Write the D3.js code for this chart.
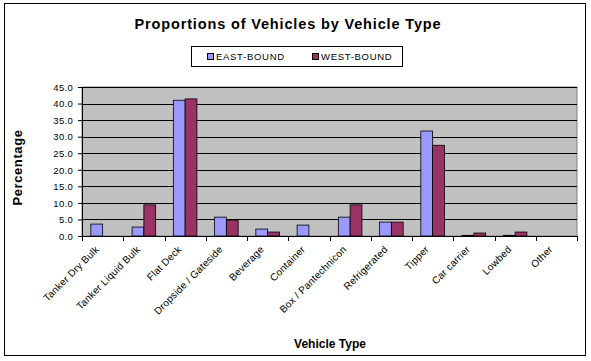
<!DOCTYPE html>
<html lang="en">
<head>
<meta charset="utf-8">
<script src="https://d3js.org/d3.v7.min.js"></script>
<style>
  body { margin: 0; background: #fff; }
  text { font-family: Arial, "Liberation Sans", sans-serif; }
</style>
</head>
<body>
<div id="chart"></div>
<script>
const categories = ["Tanker Dry Bulk", "Tanker Liquid Bulk", "Flat Deck", "Dropside / Gateside",
  "Beverage", "Container", "Box / Pantechnicon", "Refrigerated", "Tipper", "Car carrier", "Lowbed", "Other"];
const eastBound = [3.6, 2.7, 41.0, 5.7, 2.1, 3.3, 5.7, 4.2, 31.7, 0.2, 0.2, 0.0];
const westBound = [0.0, 9.4, 41.4, 4.8, 1.2, 0.0, 9.4, 4.2, 27.4, 0.9, 1.2, 0.0];
const series = ["EAST-BOUND", "WEST-BOUND"];
const colors = ["#9999FF", "#993366"];
const yTicks = d3.range(0, 45.1, 5);

const W = 591, H = 361;
const margin = {top: 87, right: 14, bottom: 125, left: 82};
const width = W - margin.left - margin.right,
      height = H - margin.top - margin.bottom;

const svg = d3.select("#chart").append("svg")
  .attr("width", W).attr("height", H);

// outer chart border
svg.append("rect")
  .attr("x", 4.5).attr("y", 3.5).attr("width", 581).attr("height", 352)
  .attr("fill", "none").attr("stroke", "#000").attr("stroke-width", 1);

svg.append("text")
  .attr("x", 288).attr("y", 29)
  .attr("text-anchor", "middle")
  .style("font-size", "14.5px").style("font-weight", "bold")
  .style("letter-spacing", "0.85px")
  .text("Proportions of Vehicles by Vehicle Type");

// legend
const legend = svg.append("g");
legend.append("rect")
  .attr("x", 191.5).attr("y", 46.5).attr("width", 211).attr("height", 20)
  .attr("fill", "#fff").attr("stroke", "#000");
const legendX = [207, 312];
series.forEach((s, i) => {
  legend.append("rect")
    .attr("x", legendX[i] + 0.5).attr("y", 53.5).attr("width", 6).attr("height", 6)
    .attr("fill", colors[i]).attr("stroke", "#000");
  legend.append("text")
    .attr("x", legendX[i] + 9).attr("y", 60)
    .style("font-size", "9.5px").style("letter-spacing", "0.7px")
    .text(s);
});

const g = svg.append("g").attr("transform", `translate(${margin.left},${margin.top})`);

const x = d3.scaleBand().domain(categories).range([0, width]);
const y = d3.scaleLinear().domain([0, 45]).range([height, 0]);

g.append("rect").attr("width", width).attr("height", height)
  .attr("fill", "#C0C0C0").attr("stroke", "#808080");

// gridlines
g.append("g").selectAll("line").data(yTicks.filter(t => t > 0)).join("line")
  .attr("x1", 0).attr("x2", width)
  .attr("y1", d => Math.round(y(d)) + 0.5).attr("y2", d => Math.round(y(d)) + 0.5)
  .attr("stroke", "#000");

// bars
const barW = x.bandwidth() / 3.5;
const data = [eastBound, westBound];
data.forEach((vals, si) => {
  g.append("g").selectAll("rect").data(vals).join("rect")
    .attr("x", (d, i) => x(categories[i]) + x.bandwidth() * 0.75 / 3.5 + si * barW)
    .attr("y", d => y(d))
    .attr("width", barW)
    .attr("height", d => height - y(d))
    .attr("fill", colors[si])
    .attr("stroke", "#000").attr("stroke-width", 0.8);
});

// y axis
const yAxis = g.append("g")
  .call(d3.axisLeft(y).tickValues(yTicks).tickSize(4).tickPadding(5).tickFormat(d3.format(".1f")));
yAxis.select(".domain").attr("stroke", "#000");
yAxis.selectAll("text").style("font-size", "9.5px").style("letter-spacing", "0.3px").attr("dy", "0.35em");

// x axis with ticks at category boundaries
const xAxis = g.append("g").attr("transform", `translate(0,${height})`);
xAxis.append("line").attr("x1", 0).attr("x2", width).attr("y1", 0.5).attr("y2", 0.5).attr("stroke", "#000");
xAxis.selectAll("line.tick").data(d3.range(categories.length + 1)).join("line")
  .attr("class", "tick")
  .attr("x1", i => Math.round(i * x.step()) + 0.5).attr("x2", i => Math.round(i * x.step()) + 0.5)
  .attr("y1", 0).attr("y2", 5).attr("stroke", "#000");
xAxis.selectAll("text").data(categories).join("text")
  .attr("text-anchor", "end")
  .attr("transform", d => `translate(${x(d) + x.bandwidth() / 2 - 3},${14}) rotate(-45)`)
  .style("font-size", "10px").style("letter-spacing", "0.2px")
  .text(d => d);

svg.append("text")
  .attr("transform", `translate(22,${margin.top + height / 2 + 6}) rotate(-90)`)
  .attr("text-anchor", "middle")
  .style("font-size", "13px").style("font-weight", "bold")
  .style("letter-spacing", "0.6px")
  .text("Percentage");

svg.append("text")
  .attr("x", 330).attr("y", 348)
  .attr("text-anchor", "middle")
  .style("font-size", "12px").style("font-weight", "bold")
  .text("Vehicle Type");
</script>
</body>
</html>
